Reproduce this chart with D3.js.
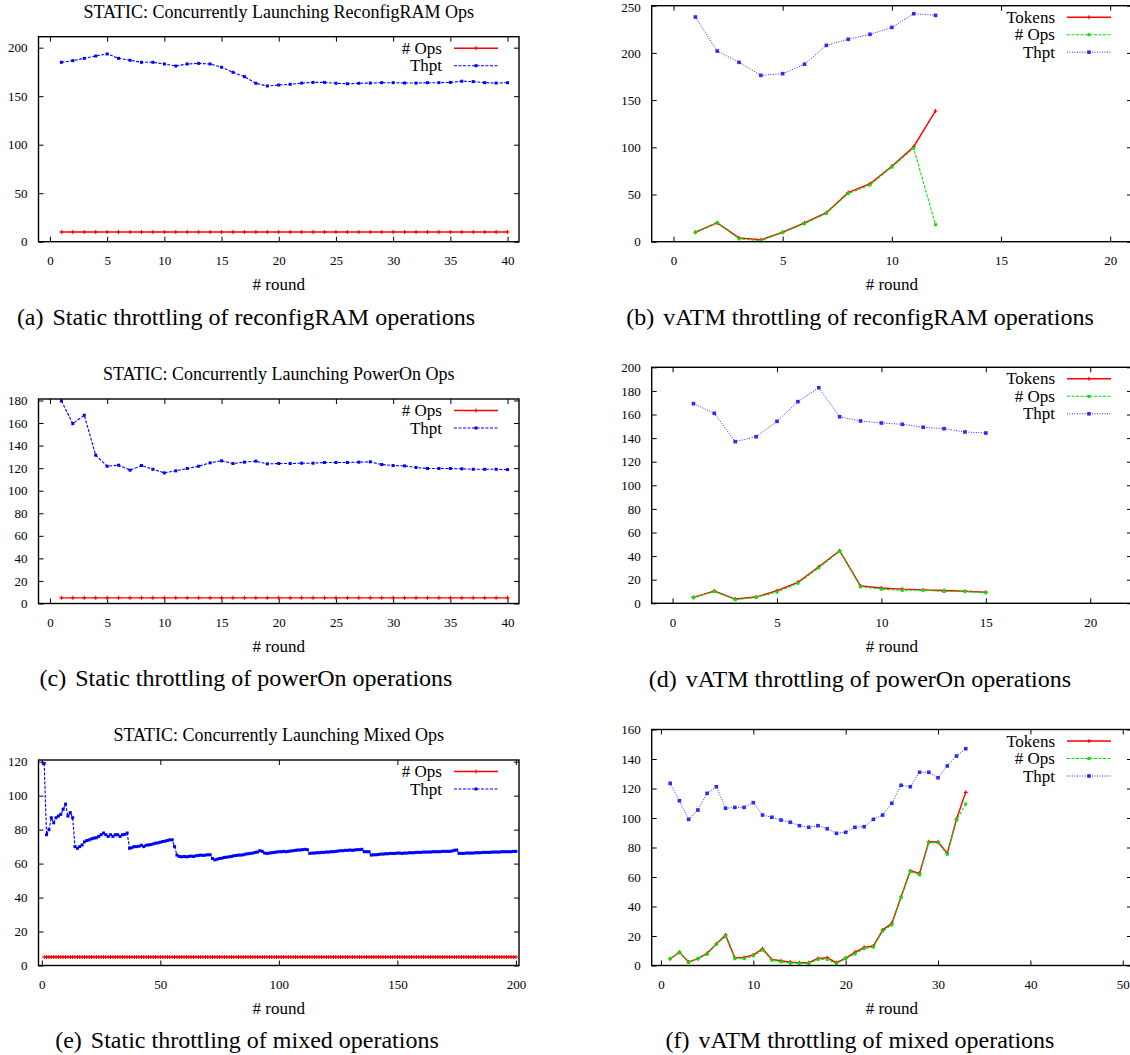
<!DOCTYPE html>
<html>
<head>
<meta charset="utf-8">
<script src="https://cdn.jsdelivr.net/npm/d3@7"></script>
<style>
  body { margin: 0; background: #fff; }
  svg { display: block; }
  text { font-family: "Liberation Serif", "Times New Roman", serif; fill: #000; }
</style>
</head>
<body>
<svg id="chart" width="1130" height="1055"></svg>
<script>
// ---- tick values ----
var xTicks40 = [0, 5, 10, 15, 20, 25, 30, 35, 40];
var xTicks20 = [0, 5, 10, 15, 20];
var xTicks200 = [0, 50, 100, 150, 200];
var xTicks50 = [0, 10, 20, 30, 40, 50];
var yTicks200by50 = [0, 50, 100, 150, 200];
var yTicks250 = [0, 50, 100, 150, 200, 250];
var yTicks180 = [0, 20, 40, 60, 80, 100, 120, 140, 160, 180];
var yTicks200by20 = [0, 20, 40, 60, 80, 100, 120, 140, 160, 180, 200];
var yTicks120 = [0, 20, 40, 60, 80, 100, 120];
var yTicks160 = [0, 20, 40, 60, 80, 100, 120, 140, 160];

// ---- (a) static reconfigRAM, rounds 1..40 ----
var staticRamOps = [10,10,10,10,10,10,10,10,10,10, 10,10,10,10,10,10,10,10,10,10,
                    10,10,10,10,10,10,10,10,10,10, 10,10,10,10,10,10,10,10,10,10];
var staticRamThpt = [184.9,186.6,189,191.4,193.5,189,187,184.9,184.9,183.2,
                     181.1,183.2,183.8,183.2,179.8,174.6,170.1,163.3,160.5,161.5,
                     162.2,163.5,164.2,164.2,163.3,162.8,163.3,163.5,163.9,163.9,
                     163.6,163.5,163.9,163.9,164.2,165.4,165,163.9,163.5,163.9];

// ---- (b) vATM reconfigRAM, rounds 1..12 ----
var vatmRamTokens = [10,20,4,2,10,20,30.7,52,61.4,80,100.6,138.5];
var vatmRamOps    = [10,20,3,1,10,19,30,51,60,79,99,18];
var vatmRamThpt   = [238,202,190,176.2,178,188,208,214.4,219.7,227,241.5,239.8];

// ---- (c) static powerOn, rounds 1..40 ----
var staticPowOps = [5,5,5,5,5,5,5,5,5,5, 5,5,5,5,5,5,5,5,5,5,
                    5,5,5,5,5,5,5,5,5,5, 5,5,5,5,5,5,5,5,5,5];
var staticPowThpt = [179.6,159.5,166.9,131.5,121.7,122.6,118.2,122.3,119,115.8,
                     117.6,119.7,121.7,124.7,126.5,124.1,125.3,126.2,123.8,124.1,
                     124.1,124.4,124.4,125,125,125,125.3,125.6,123.2,122.3,
                     122,120.6,119.7,119.7,119.7,119.4,119,119,119,118.7];

// ---- (d) vATM powerOn, rounds 1..15 ----
var vatmPowTokens = [5,10.4,3.6,5.3,10.7,17.8,31,44.6,14.7,13,12,11.4,10.8,10.2,9.4];
var vatmPowOps    = [5,10,3,5,9.5,17,30,44,14,12,11,11,10,10,9];
var vatmPowThpt   = [169.2,161,137,141.2,154.2,170.9,182.7,158.1,154.5,152.8,151.7,149.2,148,145.2,144.3];

// ---- (e) static mixed, rounds 1..200 ----
var staticMixOps = [
  5,5,5,5,5,5,5,5,5,5,5,5,5,5,5,5,5,5,5,5,
  5,5,5,5,5,5,5,5,5,5,5,5,5,5,5,5,5,5,5,5,
  5,5,5,5,5,5,5,5,5,5,5,5,5,5,5,5,5,5,5,5,
  5,5,5,5,5,5,5,5,5,5,5,5,5,5,5,5,5,5,5,5,
  5,5,5,5,5,5,5,5,5,5,5,5,5,5,5,5,5,5,5,5,
  5,5,5,5,5,5,5,5,5,5,5,5,5,5,5,5,5,5,5,5,
  5,5,5,5,5,5,5,5,5,5,5,5,5,5,5,5,5,5,5,5,
  5,5,5,5,5,5,5,5,5,5,5,5,5,5,5,5,5,5,5,5,
  5,5,5,5,5,5,5,5,5,5,5,5,5,5,5,5,5,5,5,5,
  5,5,5,5,5,5,5,5,5,5,5,5,5,5,5,5,5,5,5,5];
var staticMixThpt = [
  119,77,80,87,84,87,88,89,92,95,88,90,87,70,69,70,71,72.8,73.6,74,
  74.6,75,75.2,76,77,78,77,76,77,76,77,77,76,77,77.2,78,69,69.4,70,70,
  70.2,70.8,70,70.8,71,71.2,71.6,72,72.2,72.6,73,73.2,73.6,74,74,70,65,64.2,64,64.2,
  64,64.2,64.4,64.2,64.6,64.8,65,64.8,65,65.2,65.2,63,62.2,62.6,63,63.2,63.6,63.8,64,64.2,
  64.6,64.8,65,65,65.2,65.6,65.8,66,66.2,66.6,66.8,67.6,67.2,66.2,66,66.2,66.4,66.6,66.8,67,
  67,67.2,67,67.2,67.4,67.6,67.8,68,68,68.2,68.4,68.2,66,66.2,66.2,66.4,66.4,66.6,66.6,66.8,
  66.8,67,67,67.2,67.4,67.6,67.6,67.8,67.8,68,67.8,68,68.2,68.2,68.4,67,67,67,65,65.2,
  65.2,65.4,65.6,65.6,65.8,65.8,66,66,66,66.2,66.2,66,66.2,66.2,66.4,66.4,66.4,66.6,66.6,66.6,
  66.8,66.8,66.8,66.8,67,67,67,67,67.2,67.2,67.2,67.2,67.4,67.8,68,66,66,66,66.2,66.2,
  66.2,66.2,66.4,66.4,66.4,66.6,66.6,66.6,66.6,66.8,66.8,66.8,66.8,67,67,67,67,67,67.2,67.2];

// ---- (f) vATM mixed, rounds 1..33 ----
var vatmMixTokens = [4.6,8.9,2.4,4.6,8.3,14.6,20.7,5.3,5.5,7.1,11.4,4.1,3.2,2.3,1.9,1.9,4.8,5.3,1.9,5,
                     8.9,12.3,13.2,24,28.6,46.6,64.3,62.5,83.9,83.7,76.1,99.1,117.4];
var vatmMixOps    = [4.6,8.9,2,4.6,7.6,14.6,19.6,4.6,4.6,6.6,10.5,3.6,2.5,1.6,1.6,1.4,4.1,4.1,1.4,4.6,
                     7.8,11.4,12.5,23.3,27.5,46.2,63.6,61.4,83.2,83.2,75.4,98.6,109.5];
var vatmMixThpt   = [123.5,111.7,99.1,105.4,116.7,121.2,106.6,107.2,107.2,110.4,102,100.5,98.6,97.1,94.8,93.7,94.8,92.7,89.6,90.3,
                     93.7,94.1,99.1,102,110,122.2,121.2,131,131,127.3,135.3,142,147];

var styles = {
  red:   { color: "#ff0000", width: 1.4, dash: null,    marker: "plus",   size: 4 },
  green: { color: "#00e600", width: 1.1, dash: "3,1.5", marker: "square", size: 3 },
  blueS: { color: "#0000ff", width: 1.1, dash: "3,1.5", marker: "square", size: 3 },
  blueV: { color: "#2a2aff", width: 1,   dash: "1,1.5", marker: "square", size: 3.6 }
};

var svg = d3.select("#chart");
svg.append("rect").attr("width", 1130).attr("height", 1055).attr("fill", "#fff");

function drawMarker(g, kind, cx, cy) {
  var st = styles[kind], s = st.size;
  if (st.marker === "plus") {
    g.append("path")
      .attr("d", "M" + (cx - s / 2) + "," + cy + "h" + s + "M" + cx + "," + (cy - s / 2) + "v" + s)
      .attr("stroke", st.color).attr("stroke-width", 1.1);
  } else {
    g.append("rect")
      .attr("x", cx - s / 2).attr("y", cy - s / 2)
      .attr("width", s).attr("height", s)
      .attr("fill", st.color);
  }
}

function panel(p) {
  var x = d3.scaleLinear().domain(p.xd).range([p.l, p.r]);
  var y = d3.scaleLinear().domain(p.yd).range([p.b, p.t]);
  var g = svg.append("g");

  // axes: gnuplot style inward ticks, mirrored on top/right
  var fixAxis = function(sel) {
    sel.attr("font-family", null).attr("font-size", 13);
    sel.select(".domain").remove();
    sel.selectAll(".tick line").attr("stroke", "#000").attr("stroke-width", 1);
  };
  g.append("g").attr("transform", "translate(0," + p.b + ")")
    .call(d3.axisBottom(x).tickValues(p.xt).tickSize(-5).tickPadding(14).tickFormat(d3.format("d")))
    .call(fixAxis);
  var left = g.append("g").attr("transform", "translate(" + p.l + ",0)")
    .call(d3.axisLeft(y).tickValues(p.yt).tickSize(-5).tickPadding(11).tickFormat(d3.format("d")))
    .call(fixAxis);
  // keep a label that sits on the very top edge of the page inside it
  left.selectAll(".tick text").attr("dy", function(d) { return y(d) < 9 ? "0.45em" : "0.32em"; });
  g.append("g").attr("transform", "translate(0," + p.t + ")")
    .call(d3.axisTop(x).tickValues(p.xt).tickSize(-5).tickFormat(""))
    .call(fixAxis);
  g.append("g").attr("transform", "translate(" + p.r + ",0)")
    .call(d3.axisRight(y).tickValues(p.yt).tickSize(-5).tickFormat(""))
    .call(fixAxis);

  // series
  p.series.forEach(function(s) {
    var st = styles[s.kind];
    var line = d3.line().x(function(d, i) { return x(i + 1); }).y(function(d) { return y(d); });
    g.append("path").datum(s.data)
      .attr("d", line).attr("fill", "none")
      .attr("stroke", st.color).attr("stroke-width", st.width)
      .attr("stroke-dasharray", st.dash);
    var mg = g.append("g");
    s.data.forEach(function(d, i) { drawMarker(mg, s.kind, x(i + 1), y(d)); });
  });

  // legend
  p.series.forEach(function(s, i) {
    var st = styles[s.kind];
    var ly = p.t + 11.5 + i * 17.5;
    g.append("text").attr("x", p.r - 77).attr("y", ly)
      .attr("text-anchor", "end").attr("dominant-baseline", "central")
      .attr("font-size", 17).text(s.name);
    g.append("line").attr("x1", p.r - 65).attr("x2", p.r - 21)
      .attr("y1", ly).attr("y2", ly)
      .attr("stroke", st.color).attr("stroke-width", st.width)
      .attr("stroke-dasharray", st.dash);
    drawMarker(g, s.kind, p.r - 43, ly);
  });

  // frame
  g.append("rect").attr("x", p.l).attr("y", p.t)
    .attr("width", p.r - p.l).attr("height", p.b - p.t)
    .attr("fill", "none").attr("stroke", "#000").attr("stroke-width", 1.4);

  if (p.title) {
    g.append("text").attr("x", (p.l + p.r) / 2).attr("y", p.t - 25)
      .attr("text-anchor", "middle").attr("dominant-baseline", "central")
      .attr("font-size", 18).text(p.title);
  }
  g.append("text").attr("x", (p.l + p.r) / 2).attr("y", p.b + 43)
    .attr("text-anchor", "middle").attr("dominant-baseline", "central")
    .attr("font-size", 17).text("# round");

  var cap = g.append("text").attr("x", p.cx).attr("y", p.cy)
    .attr("text-anchor", "middle").attr("dominant-baseline", "central")
    .attr("font-size", 24).attr("fill", "#111");
  cap.append("tspan").text(p.tag);
  cap.append("tspan").attr("dx", 9).text(p.caption);
}

var panels = [
  { l: 38.5, t: 36.7, r: 519, b: 241.7, xd: [-1, 41], yd: [0, 211.3], xt: xTicks40, yt: yTicks200by50,
    title: "STATIC: Concurrently Launching ReconfigRAM Ops",
    series: [{ name: "# Ops", data: staticRamOps, kind: "red" }, { name: "Thpt", data: staticRamThpt, kind: "blueS" }],
    tag: "(a)", caption: "Static throttling of reconfigRAM operations", cx: 246, cy: 317 },
  { l: 651.7, t: 5.7, r: 1132, b: 241.7, xd: [-1, 21], yd: [0, 250], xt: xTicks20, yt: yTicks250,
    series: [{ name: "Tokens", data: vatmRamTokens, kind: "red" }, { name: "# Ops", data: vatmRamOps, kind: "green" },
             { name: "Thpt", data: vatmRamThpt, kind: "blueV" }],
    tag: "(b)", caption: "vATM throttling of reconfigRAM operations", cx: 860, cy: 317 },
  { l: 38.5, t: 399, r: 519, b: 603.5, xd: [-1, 41], yd: [0, 181.3], xt: xTicks40, yt: yTicks180,
    title: "STATIC: Concurrently Launching PowerOn Ops",
    series: [{ name: "# Ops", data: staticPowOps, kind: "red" }, { name: "Thpt", data: staticPowThpt, kind: "blueS" }],
    tag: "(c)", caption: "Static throttling of powerOn operations", cx: 246, cy: 678 },
  { l: 651.7, t: 367.3, r: 1132, b: 603.3, xd: [-1, 22], yd: [0, 200], xt: xTicks20, yt: yTicks200by20,
    series: [{ name: "Tokens", data: vatmPowTokens, kind: "red" }, { name: "# Ops", data: vatmPowOps, kind: "green" },
             { name: "Thpt", data: vatmPowThpt, kind: "blueV" }],
    tag: "(d)", caption: "vATM throttling of powerOn operations", cx: 860, cy: 679 },
  { l: 38.5, t: 760, r: 519, b: 965.5, xd: [-1.4, 201.3], yd: [0, 121], xt: xTicks200, yt: yTicks120,
    title: "STATIC: Concurrently Launching Mixed Ops",
    series: [{ name: "# Ops", data: staticMixOps, kind: "red" }, { name: "Thpt", data: staticMixThpt, kind: "blueS" }],
    tag: "(e)", caption: "Static throttling of mixed operations", cx: 247, cy: 1040 },
  { l: 651.7, t: 729.5, r: 1132, b: 965.5, xd: [-1, 51], yd: [0, 160], xt: xTicks50, yt: yTicks160,
    series: [{ name: "Tokens", data: vatmMixTokens, kind: "red" }, { name: "# Ops", data: vatmMixOps, kind: "green" },
             { name: "Thpt", data: vatmMixThpt, kind: "blueV" }],
    tag: "(f)", caption: "vATM throttling of mixed operations", cx: 860, cy: 1040 }
];

panels.forEach(panel);
</script>
</body>
</html>
